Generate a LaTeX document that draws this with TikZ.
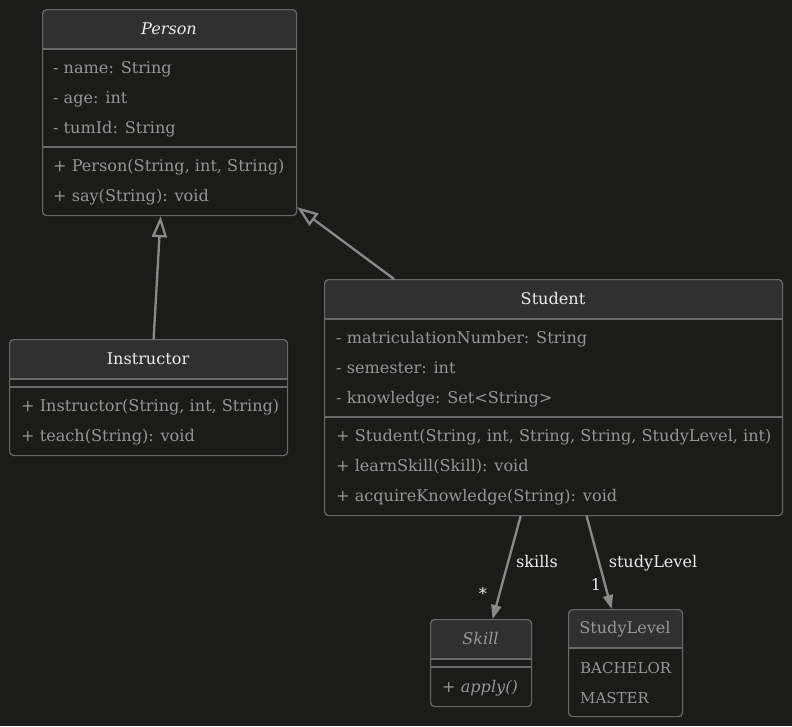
\documentclass[tikz,border=0pt]{standalone}
\usepackage{fontspec}
\setmainfont{DejaVu Serif}
\usetikzlibrary{arrows.meta,calc}
\definecolor{bg}{RGB}{27,28,26}
\definecolor{hdr}{RGB}{48,48,48}
\definecolor{bord}{RGB}{105,105,105}
\definecolor{txt}{RGB}{150,150,150}
\definecolor{ttl}{RGB}{235,235,235}
\definecolor{lnk}{RGB}{138,138,138}
\newcommand{\umlfont}{\fontsize{16.1}{19}\selectfont}
\tikzset{
  classbox/.style={draw=bord, line width=1.2pt, rounded corners=4pt, anchor=north west, inner sep=0pt},
  sepline/.style={draw=bord, line width=1.2pt},
  member/.style={anchor=west, text=txt, inner sep=0pt, text height=14.5pt, text depth=3.5pt, font=\umlfont},
  title/.style={text=ttl, inner sep=0pt, text height=14.5pt, text depth=3.5pt, font=\umlfont},
  lbl/.style={text=ttl, inner sep=0pt, text height=14.5pt, text depth=3.5pt, font=\umlfont},
  inh/.style={draw=lnk, line width=2.3pt, -{Triangle[open, length=21pt, width=15pt, line width=2.3pt]}},
  assoc/.style={draw=lnk, line width=2.3pt, -{Triangle[length=14pt, width=10pt]}},
}
\begin{document}
\begin{tikzpicture}[x=1pt,y=-1pt]
\useasboundingbox (0,0) rectangle (792,726);
\fill[bg] (0,0) rectangle (792,726);

% ---------- Person ----------
\fill[hdr] (42,49) [rounded corners=4pt] -- (42,9) -- (296,9) [sharp corners] -- (296,49) -- cycle;
\node[classbox, minimum width=254pt, minimum height=206pt] (person) at (42,9) {};
\draw[sepline] (42,49) -- (296,49);
\draw[sepline] (42,147) -- (296,147);
\node[title, font=\umlfont\itshape] (personT) at (169,29) {Person};
\node[member] (pa1) at (53,68) {- name: String};
\node[member] (pa2) at (53,98) {- age: int};
\node[member] (pa3) at (53,128) {- tumId: String};
\node[member] (pm1) at (53,166) {+ Person(String, int, String)};
\node[member] (pm2) at (53,196) {+ say(String): void};

% ---------- Instructor ----------
\fill[hdr] (9,379) [rounded corners=4pt] -- (9,339) -- (287,339) [sharp corners] -- (287,379) -- cycle;
\node[classbox, minimum width=278pt, minimum height=116pt] (instructor) at (9,339) {};
\draw[sepline] (9,379) -- (287,379);
\draw[sepline] (9,387) -- (287,387);
\node[title] (instructorT) at (148,359) {Instructor};
\node[member] (im1) at (21,406) {+ Instructor(String, int, String)};
\node[member] (im2) at (21,436) {+ teach(String): void};

% ---------- Student ----------
\fill[hdr] (324,319) [rounded corners=4pt] -- (324,279) -- (782,279) [sharp corners] -- (782,319) -- cycle;
\node[classbox, minimum width=458pt, minimum height=236pt] (student) at (324,279) {};
\draw[sepline] (324,319) -- (782,319);
\draw[sepline] (324,417) -- (782,417);
\node[title] (studentT) at (553,299) {Student};
\node[member] (sa1) at (336,338) {- matriculationNumber: String};
\node[member] (sa2) at (336,368) {- semester: int};
\node[member] (sa3) at (336,398) {- knowledge: Set<String>};
\node[member] (sm1) at (336,436) {+ Student(String, int, String, String, StudyLevel, int)};
\node[member] (sm2) at (336,466) {+ learnSkill(Skill): void};
\node[member] (sm3) at (336,496) {+ acquireKnowledge(String): void};

% ---------- Skill ----------
\fill[hdr] (430,659) [rounded corners=4pt] -- (430,619) -- (531,619) [sharp corners] -- (531,659) -- cycle;
\node[classbox, minimum width=101pt, minimum height=87pt] (skill) at (430,619) {};
\draw[sepline] (430,659) -- (531,659);
\draw[sepline] (430,667) -- (531,667);
\node[title, text=txt, font=\umlfont\itshape] (skillT) at (480.5,639) {Skill};
\node[member] (km1) at (442,687) {+ \textit{apply()}};

% ---------- StudyLevel ----------
\fill[hdr] (568,648) [rounded corners=4pt] -- (568,609) -- (682,609) [sharp corners] -- (682,648) -- cycle;
\node[classbox, minimum width=114pt, minimum height=107pt] (studylevel) at (568,609) {};
\draw[sepline] (568,648) -- (682,648);
\node[title, text=txt] (studylevelT) at (625,628) {StudyLevel};
\node[member, font=\fontsize{15}{18}\selectfont] (le1) at (580,668) {BACHELOR};
\node[member, font=\fontsize{15}{18}\selectfont] (le2) at (580,698) {MASTER};

% ---------- Connectors ----------
\draw[inh] ([xshift=5pt]instructor.north) -- ([xshift=-9pt]person.south);
\draw[inh] ([xshift=70pt]student.north west) -- ([yshift=9pt]person.south east);
\draw[assoc] ([xshift=-33pt]student.south) -- ([xshift=11.5pt]skill.north);
\draw[assoc] ([xshift=33pt]student.south) -- ([xshift=-14pt]studylevel.north);

\node[lbl] (skillsL) at (537,562) {skills};
\node[lbl] (starL) at (483,594) {*};
\node[lbl] (studyL) at (653,562) {studyLevel};
\node[lbl] (oneL) at (596,585) {1};
\end{tikzpicture}
\end{document}
